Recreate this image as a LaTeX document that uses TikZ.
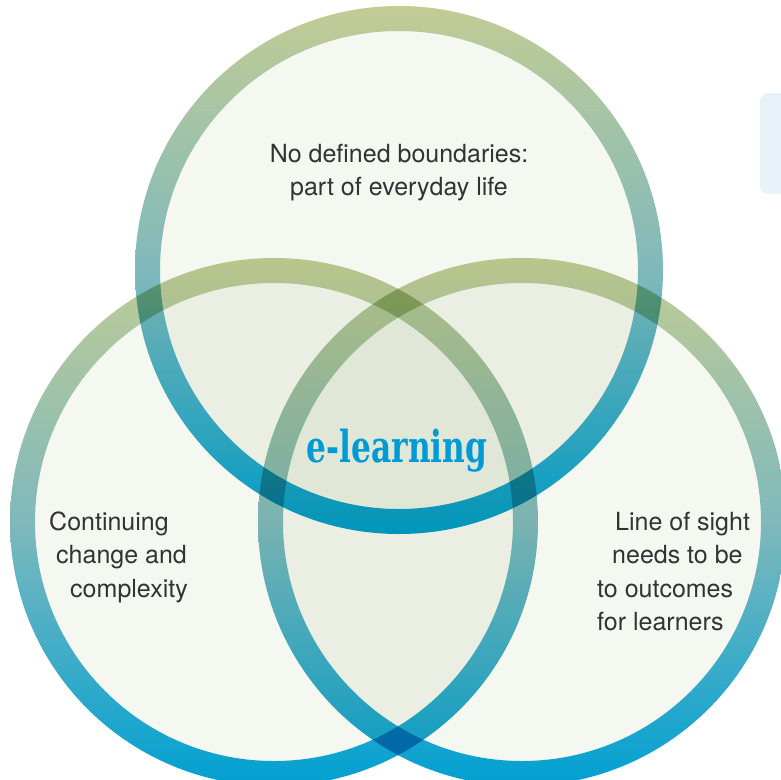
\documentclass[tikz,border=0pt]{standalone}
\usepackage{fontspec}
\setmainfont{TeX Gyre Heros}
\newfontfamily\slabfont[FakeStretch=0.71]{DejaVu Serif}

\definecolor{ringgreen}{HTML}{C2CC94}
\definecolor{ringteal}{HTML}{7FB9BC}
\definecolor{ringblue}{HTML}{00A0D2}
\definecolor{discfill}{HTML}{F5F7F1}
\definecolor{textgray}{HTML}{333333}
\definecolor{elblue}{HTML}{009BD7}
\definecolor{notefill}{HTML}{E8F2F9}

\tikzset{
  disc/.style={fill=discfill},
  ring/.style={top color=ringgreen, bottom color=ringblue, middle color=ringteal, even odd rule},
  venntext/.style={text=textgray, font=\fontsize{25}{33.5}\selectfont, inner sep=0pt}
}

\begin{document}
\begin{tikzpicture}[x=1pt,y=-1pt]
    \useasboundingbox (0,0) rectangle (781,779);
    \clip (0,0) rectangle (781,779);

    \coordinate (topc) at (399,270);
    \coordinate (leftc) at (274,522);
    \coordinate (rightc) at (522,522);

    \fill[notefill, rounded corners=8pt] (760,93) rectangle (800,194);

    \begin{scope}[blend mode=multiply]
      \foreach \c in {topc,leftc,rightc}
        \fill[disc] (\c) circle (239);
      \foreach \c in {topc,leftc,rightc}
        \shade[ring] (\c) circle (264) (\c) circle (239);
    \end{scope}

    % base anchor sits on the last line
    \node[venntext, align=center, anchor=base] (bounds) at (399,195.5)
      {No defined boundaries:\\part of everyday life};
    \node[venntext, align=left, anchor=base west] (change) at (49,597)
      {Continuing\\\hspace*{7pt}change and\\\hspace*{21pt}complexity};
    \node[venntext, align=left, anchor=base west] (sight) at (597,630.5)
      {\hspace*{18pt}Line of sight\\\hspace*{15pt}needs to be\\to outcomes\\for learners};

    \node[font=\slabfont\bfseries\fontsize{44}{44}\selectfont, text=elblue, anchor=base, inner sep=0pt] (elearn) at (397,462) {e-learning};
\end{tikzpicture}
\end{document}
